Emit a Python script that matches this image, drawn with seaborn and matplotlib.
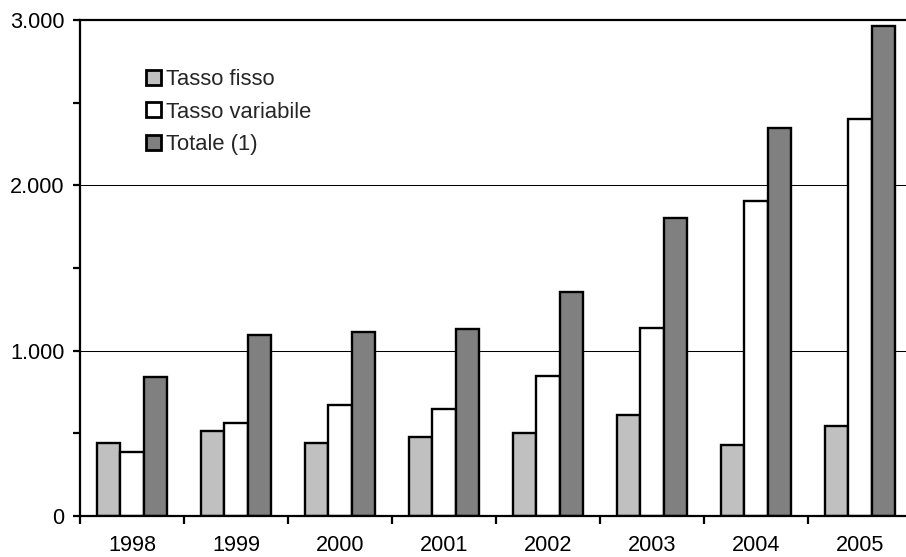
import matplotlib
matplotlib.use("Agg")
import matplotlib.pyplot as plt
from matplotlib.ticker import FuncFormatter, FixedLocator
import numpy as np
import pandas as pd
import seaborn as sns

# Values per year (units)
anni = ["1998", "1999", "2000", "2001", "2002", "2003", "2004", "2005"]
tasso_fisso = [444, 516, 440, 476, 500, 609, 430, 544]
tasso_variabile = [389, 565, 672, 648, 847, 1135, 1903, 2402]
totale = [838, 1097, 1112, 1130, 1354, 1802, 2348, 2961]

serie = ["Tasso fisso", "Tasso variabile", "Totale (1)"]
colori = ["#C0C0C0", "#FFFFFF", "#808080"]

df = pd.DataFrame({
    "Anno": anni * 3,
    "Serie": [serie[0]] * 8 + [serie[1]] * 8 + [serie[2]] * 8,
    "Valore": tasso_fisso + tasso_variabile + totale,
})

sns.set_theme(style="white")
plt.rcParams["font.family"] = ["Liberation Sans", "DejaVu Sans"]

fig = plt.figure(figsize=(9.06, 5.57), dpi=100)
ax = fig.add_axes([80 / 906, 1 - 516 / 557, 832 / 906, 496 / 557])

sns.barplot(data=df, x="Anno", y="Valore", hue="Serie", order=anni,
            hue_order=serie, palette=colori, width=0.67, edgecolor="black",
            linewidth=1.7, saturation=1, ax=ax, legend=True)

ax.set_xlim(-0.5, len(anni) - 0.5)
ax.set_ylim(0, 3000)
ax.set_xlabel("")
ax.set_ylabel("")

# Horizontal reference lines
for v in (1000, 2000):
    ax.axhline(v, color="black", linewidth=0.75, zorder=0)

# Spines
for side in ("left", "bottom", "top"):
    ax.spines[side].set_visible(True)
    ax.spines[side].set_color("black")
    ax.spines[side].set_linewidth(1.6)
ax.spines["right"].set_visible(False)

# Y axis ticks with dot thousands separator
ax.yaxis.set_major_locator(FixedLocator([0, 1000, 2000, 3000]))
ax.yaxis.set_minor_locator(FixedLocator([500, 1500, 2500]))
ax.yaxis.set_major_formatter(FuncFormatter(lambda v, p: f"{int(v):,}".replace(",", ".")))
ax.tick_params(axis="y", which="both", direction="out", length=5, width=1.6,
               color="black", left=True, pad=6, labelsize=15.6, labelcolor="black")

# X axis: labels at group centres, ticks at group boundaries
ax.set_xticks(np.arange(len(anni)))
ax.set_xticklabels(anni)
ax.xaxis.set_minor_locator(FixedLocator(np.arange(len(anni) + 1) - 0.5))
ax.tick_params(axis="x", which="major", length=0, pad=14, labelsize=15.6,
               labelcolor="black")
ax.tick_params(axis="x", which="minor", direction="out", length=6, width=1.6,
               color="black", bottom=True)

# Legend without frame
handles, labels = ax.get_legend_handles_labels()
for h in handles:
    h.set_linewidth(2.0)
ax.legend_.remove()
fig.legend(handles, labels, loc="upper left",
           bbox_to_anchor=(146 / 906, 1 - 69 / 557), frameon=False,
           fontsize=15.8, handlelength=0.68, handleheight=0.68,
           handletextpad=0.22, labelspacing=0.53, borderpad=0,
           borderaxespad=0)

fig.savefig("out.png", dpi=100)
